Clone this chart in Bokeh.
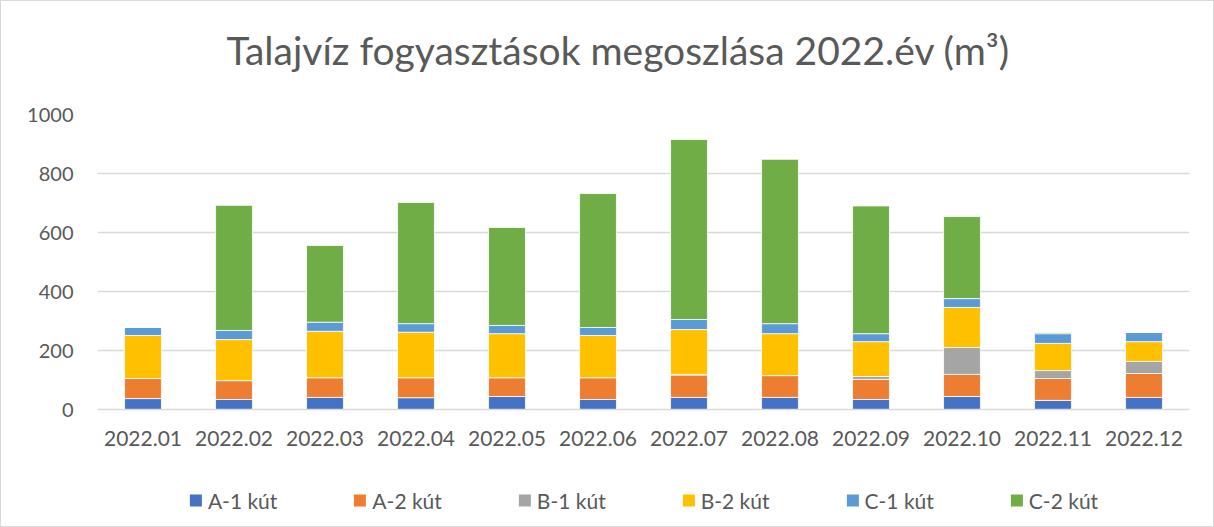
from bokeh.plotting import figure
from bokeh.layouts import column
from bokeh.models import Range1d, FactorRange, Legend, LegendItem, Label
from bokeh.embed import file_html
from bokeh.resources import INLINE

months = ["2022.01", "2022.02", "2022.03", "2022.04", "2022.05", "2022.06",
          "2022.07", "2022.08", "2022.09", "2022.10", "2022.11", "2022.12"]
a1 = [37, 34, 41, 40, 44, 34, 41, 41, 34, 44, 31, 41]
a2 = [68, 64, 67, 68, 64, 74, 76, 74, 68, 75, 74, 81]
b1 = [0, 0, 0, 0, 0, 0, 2, 0, 10, 91, 27, 41]
b2 = [146, 139, 157, 154, 149, 143, 152, 142, 118, 136, 92, 67]
c1 = [27, 31, 31, 29, 28, 27, 34, 34, 27, 30, 33, 31]
c2 = [0, 424, 260, 411, 332, 454, 610, 557, 433, 278, 4, 0]

title_text = "Talajvíz fogyasztások megoszlása 2022.év (m³)"
series_names = ["A-1 kút", "A-2 kút", "B-1 kút", "B-2 kút", "C-1 kút", "C-2 kút"]
colors = ["#4472C4", "#ED7D31", "#A5A5A5", "#FFC000", "#5B9BD5", "#70AD47"]
yticks = [0, 200, 400, 600, 800, 1000]

data = {"month": months, "a1": a1, "a2": a2, "b1": b1, "b2": b2, "c1": c1, "c2": c2}
keys = ["a1", "a2", "b1", "b2", "c1", "c2"]

# title strip
p0 = figure(x_range=Range1d(0, 1), y_range=Range1d(0, 1), width=1212, height=90,
            output_backend="svg", toolbar_location=None,
            min_border_left=0, min_border_right=0, min_border_top=0, min_border_bottom=0)
p0.axis.visible = False
p0.grid.visible = False
p0.outline_line_color = None
p0.add_layout(Label(x=0.4769, y=0.466, text=title_text, text_align="center",
                    text_baseline="middle", text_font="Lato", text_font_size="39px",
                    text_color="#595959"))

# main chart
p = figure(x_range=FactorRange(*months, range_padding=0), y_range=Range1d(0, 1000),
           width=1212, height=370, output_backend="svg", toolbar_location=None,
           min_border_left=96, min_border_right=24, min_border_top=23, min_border_bottom=52)

rs = p.vbar_stack(keys, x="month", width=0.405, color=colors, source=data,
                  line_color="white", line_width=0.8)

p.xgrid.grid_line_color = None
p.ygrid.grid_line_color = "#d9d9d9"
p.ygrid.grid_line_width = 1.3
p.yaxis.ticker = yticks
p.yaxis.axis_line_color = None
p.yaxis.major_tick_line_color = None
p.yaxis.minor_tick_line_color = None
p.yaxis.major_label_standoff = 18
p.yaxis.major_label_text_font_size = "20px"
p.xaxis.axis_line_color = "#d9d9d9"
p.xaxis.axis_line_width = 1.3
p.xaxis.major_tick_line_color = None
p.xaxis.major_label_standoff = 15
p.xaxis.major_label_text_font_size = "21px"
for ax in (p.xaxis, p.yaxis):
    ax.major_label_text_font = "Lato"
    ax.major_label_text_color = "#595959"
p.outline_line_color = None

# legend strip (zero-size swatch renderers, only their legend glyphs show)
p2 = figure(x_range=Range1d(0, 1), y_range=Range1d(0, 1), width=1212, height=65,
            output_backend="svg", toolbar_location=None,
            min_border_left=0, min_border_right=0, min_border_top=24, min_border_bottom=11)
p2.axis.visible = False
p2.grid.visible = False
p2.outline_line_color = None
swatches = [p2.vbar(x=[0.5], top=[0.5], bottom=[0.5], width=0, fill_color=c, line_alpha=0)
            for c in colors]
legend = Legend(items=[LegendItem(label=n, renderers=[r]) for n, r in zip(series_names, swatches)],
                orientation="horizontal", location="center",
                glyph_width=15, glyph_height=15, label_standoff=5, spacing=75,
                padding=0, margin=0, border_line_color=None, background_fill_alpha=0,
                label_text_font="Lato", label_text_font_size="21px", label_text_color="#595959")
p2.add_layout(legend, "center")

layout = column(p0, p, p2, spacing=0)
layout.styles = {"border": "1px solid #d9d9d9"}

open("out.html", "w").write(file_html(layout, INLINE))
